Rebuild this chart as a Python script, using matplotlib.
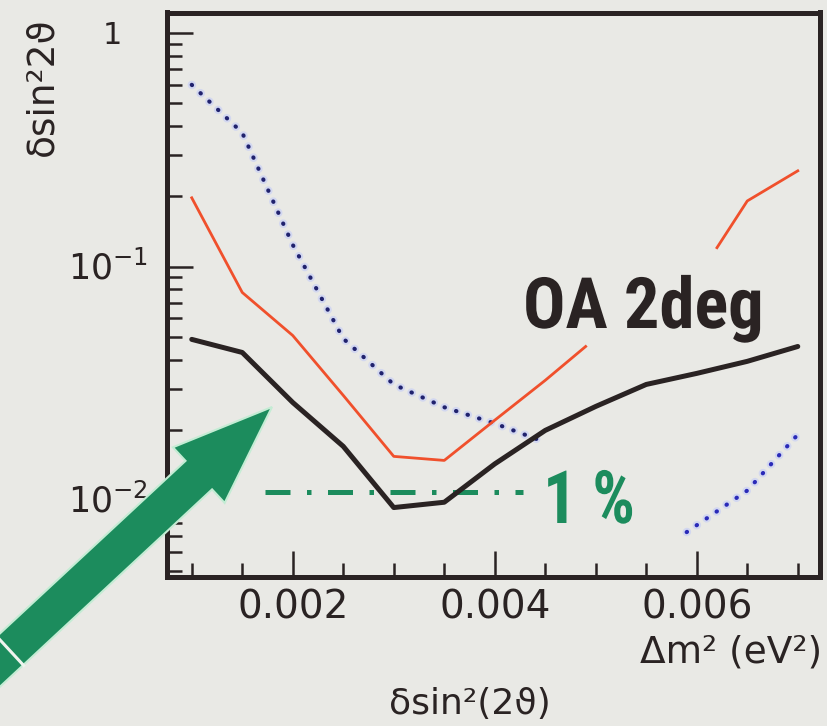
import matplotlib
matplotlib.use('Agg')
import matplotlib.pyplot as plt
from matplotlib import font_manager as fm
from matplotlib.ticker import FixedLocator, MultipleLocator, LogLocator, NullFormatter
from matplotlib.transforms import blended_transform_factory, ScaledTranslation, Affine2D
from matplotlib.patches import FancyArrow
from matplotlib.lines import Line2D
from matplotlib.patheffects import AbstractPathEffect

BG = '#e9e9e5'
INK = '#2a2323'
GREEN = '#1c8c5d'

# ---------------- data ----------------
dm2 = [0.001, 0.0015, 0.002, 0.0025, 0.003, 0.0035, 0.004, 0.0045,
       0.005, 0.0055, 0.006, 0.0065, 0.007]
oa2deg = [0.0488, 0.0429, 0.0262, 0.0170, 0.0093, 0.0098, 0.0143, 0.0199,
          0.0252, 0.0313, 0.0349, 0.0393, 0.0455]

red_low_x = [0.001, 0.0015, 0.002, 0.0025, 0.003, 0.0035, 0.004, 0.0045, 0.0049]
red_low_y = [0.197, 0.0775, 0.0507, 0.0281, 0.0154, 0.0148, 0.0220, 0.0326, 0.0455]
red_high_x = [0.0062, 0.0065, 0.007]
red_high_y = [0.1205, 0.191, 0.257]

blue_low_x = [0.001, 0.0015, 0.002, 0.0025, 0.003, 0.0035, 0.004, 0.0045]
blue_low_y = [0.60, 0.374, 0.124, 0.0492, 0.0313, 0.0250, 0.0213, 0.0177]
blue_high_x = [0.0059, 0.0065, 0.007]
blue_high_y = [0.0073, 0.0110, 0.0191]

one_pct_x = [0.00173, 0.00428]
one_pct_y = [0.0108, 0.0108]

x_major = [0.002, 0.004, 0.006]
x_major_labels = ['0.002', '0.004', '0.006']
y_major = [1.0, 0.1, 0.01]
y_major_labels = ['1', r'$\mathregular{10^{-1}}$', r'$\mathregular{10^{-2}}$']


def pick_font(cands):
    for c in cands:
        try:
            fm.findfont(fm.FontProperties(family=c, weight='bold'), fallback_to_default=False)
            return c
        except Exception:
            pass
    return 'DejaVu Sans'


class VStretch(AbstractPathEffect):
    """Stretch glyph outlines vertically about the text baseline."""
    def __init__(self, sy, y0):
        super().__init__()
        self.sy = sy
        self.y0 = y0

    def draw_path(self, renderer, gc, tpath, affine, rgbFace=None):
        a = affine + Affine2D().translate(0, -self.y0).scale(1, self.sy).translate(0, self.y0)
        renderer.draw_path(gc, tpath, a, rgbFace)


# ---------------- figure ----------------
fig = plt.figure(figsize=(8.27, 7.26), dpi=100, facecolor=BG)
W, H = 827, 726
ax = fig.add_axes([167/W, 1-577/H, (820-167)/W, (577-12.5)/H])
ax.set_facecolor(BG)
ax.set_yscale('log')
ax.set_xlim(0.000755, 0.00722)
ax.set_ylim(0.00469, 1.224)

# curves
for xs, ys, col in [(blue_low_x, blue_low_y, '#20226e'), (blue_high_x, blue_high_y, '#2a2ab8')]:
    ax.plot(xs, ys, color='#d2d7f0', lw=6, linestyle=(0, (0.05, 1.4)),
            dash_capstyle='round', zorder=2)
    ax.plot(xs, ys, color=col, lw=3.0, linestyle=(0, (0.1, 2.8)),
            dash_capstyle='round', zorder=3)
ax.plot(red_low_x, red_low_y, color='#f0502c', lw=2.0, zorder=4)
ax.plot(red_high_x, red_high_y, color='#f0502c', lw=2.0, zorder=4)
ax.plot(one_pct_x, one_pct_y, color=GREEN, lw=3.6, linestyle=(0, (5, 3.3, 0.9, 3.3)),
        dash_capstyle='butt', zorder=4)
ax.plot(dm2, oa2deg, color=INK, lw=3.6, solid_joinstyle='round',
        solid_capstyle='round', zorder=5)

# axes styling
for s in ax.spines.values():
    s.set_linewidth(3.6)
    s.set_color(INK)
ax.xaxis.set_major_locator(FixedLocator(x_major))
ax.set_xticklabels(x_major_labels)
ax.xaxis.set_minor_locator(MultipleLocator(0.0005))
ax.xaxis.set_minor_formatter(NullFormatter())
ax.yaxis.set_major_locator(FixedLocator(y_major))
ax.yaxis.set_major_formatter(NullFormatter())
ax.yaxis.set_minor_locator(LogLocator(base=10, subs=[2, 3, 4, 5, 6, 7, 8, 9]))
ax.yaxis.set_minor_formatter(NullFormatter())
ax.tick_params(axis='x', which='major', direction='in', length=19, width=1.8,
               color=INK, labelsize=28, pad=8, labelcolor=INK, top=False)
ax.tick_params(axis='x', which='minor', direction='in', length=10, width=1.8,
               color=INK, top=False)
ax.tick_params(axis='y', which='major', direction='in', length=19, width=1.8,
               color=INK, right=False)
ax.tick_params(axis='y', which='minor', direction='in', length=11, width=1.8,
               color=INK, right=False)

# y tick labels (individually placed)
btr = blended_transform_factory(ax.transAxes, ax.transData)
specs = [(-0.45, -8/72, 22), (-0.19, -9.1/72, 25), (-0.19, -9.1/72, 25)]
for val, lab, (dx, dy, fs) in zip(y_major, y_major_labels, specs):
    ax.text(0, val, lab, transform=btr + ScaledTranslation(dx, dy, fig.dpi_scale_trans),
            ha='right', va='baseline', fontsize=fs, color=INK, clip_on=False)

# axis labels
fig.text(42/W, 1-87/H, 'δsin²2ϑ', rotation=90, ha='center', va='center',
         fontsize=27, color=INK)
fig.text(822/W, 1-663/H, 'Δm² (eV²)', ha='right', va='baseline',
         fontsize=27, color=INK)
fig.text(470/W, 1-714/H, 'δsin²(2ϑ)', ha='center', va='baseline',
         fontsize=26, color=INK)

# condensed-looking annotation texts
fam = pick_font(['Liberation Sans Narrow', 'DejaVu Sans Condensed', 'Roboto Condensed',
                 'Open Sans Condensed', 'Roboto', 'DejaVu Sans'])
fig.canvas.draw()
renderer = fig.canvas.get_renderer()


def fitted_text(x_px, base_px, target_w, target_cap, s, color):
    t = fig.text(x_px/W, 1-base_px/H, s, ha='left', va='baseline', fontsize=40,
                 fontweight='bold', family=fam, color=color, zorder=20)
    w = t.get_window_extent(renderer).width
    fs = 40 * target_w / w
    t.set_fontsize(fs)
    cap = 0.72 * fs * 100 / 72
    sy = max(1.0, target_cap / cap)
    t.set_path_effects([VStretch(sy, H - base_px)])
    return t


fitted_text(523, 328, 240, 51, 'OA 2deg', INK)
fitted_text(543, 523, 92, 53, '1 %', GREEN)

# big green arrow (figure inches)
tip = (2.72, 3.19)
d = (0.732, 0.681)
L = 4.7
arrow = FancyArrow(tip[0]-L*d[0], tip[1]-L*d[1], L*d[0], L*d[1], width=0.39,
                   head_width=0.76, head_length=1.0, length_includes_head=True,
                   transform=fig.dpi_scale_trans, fc=GREEN, ec='#c4ecd4', lw=1.5,
                   zorder=10)
fig.add_artist(arrow)
fig.add_artist(Line2D([-0.036, 0.236], [0.90, 0.606], transform=fig.dpi_scale_trans,
                      color='#eef4ee', lw=2.2, zorder=11))

fig.savefig('out.png', dpi=100, facecolor=BG)
